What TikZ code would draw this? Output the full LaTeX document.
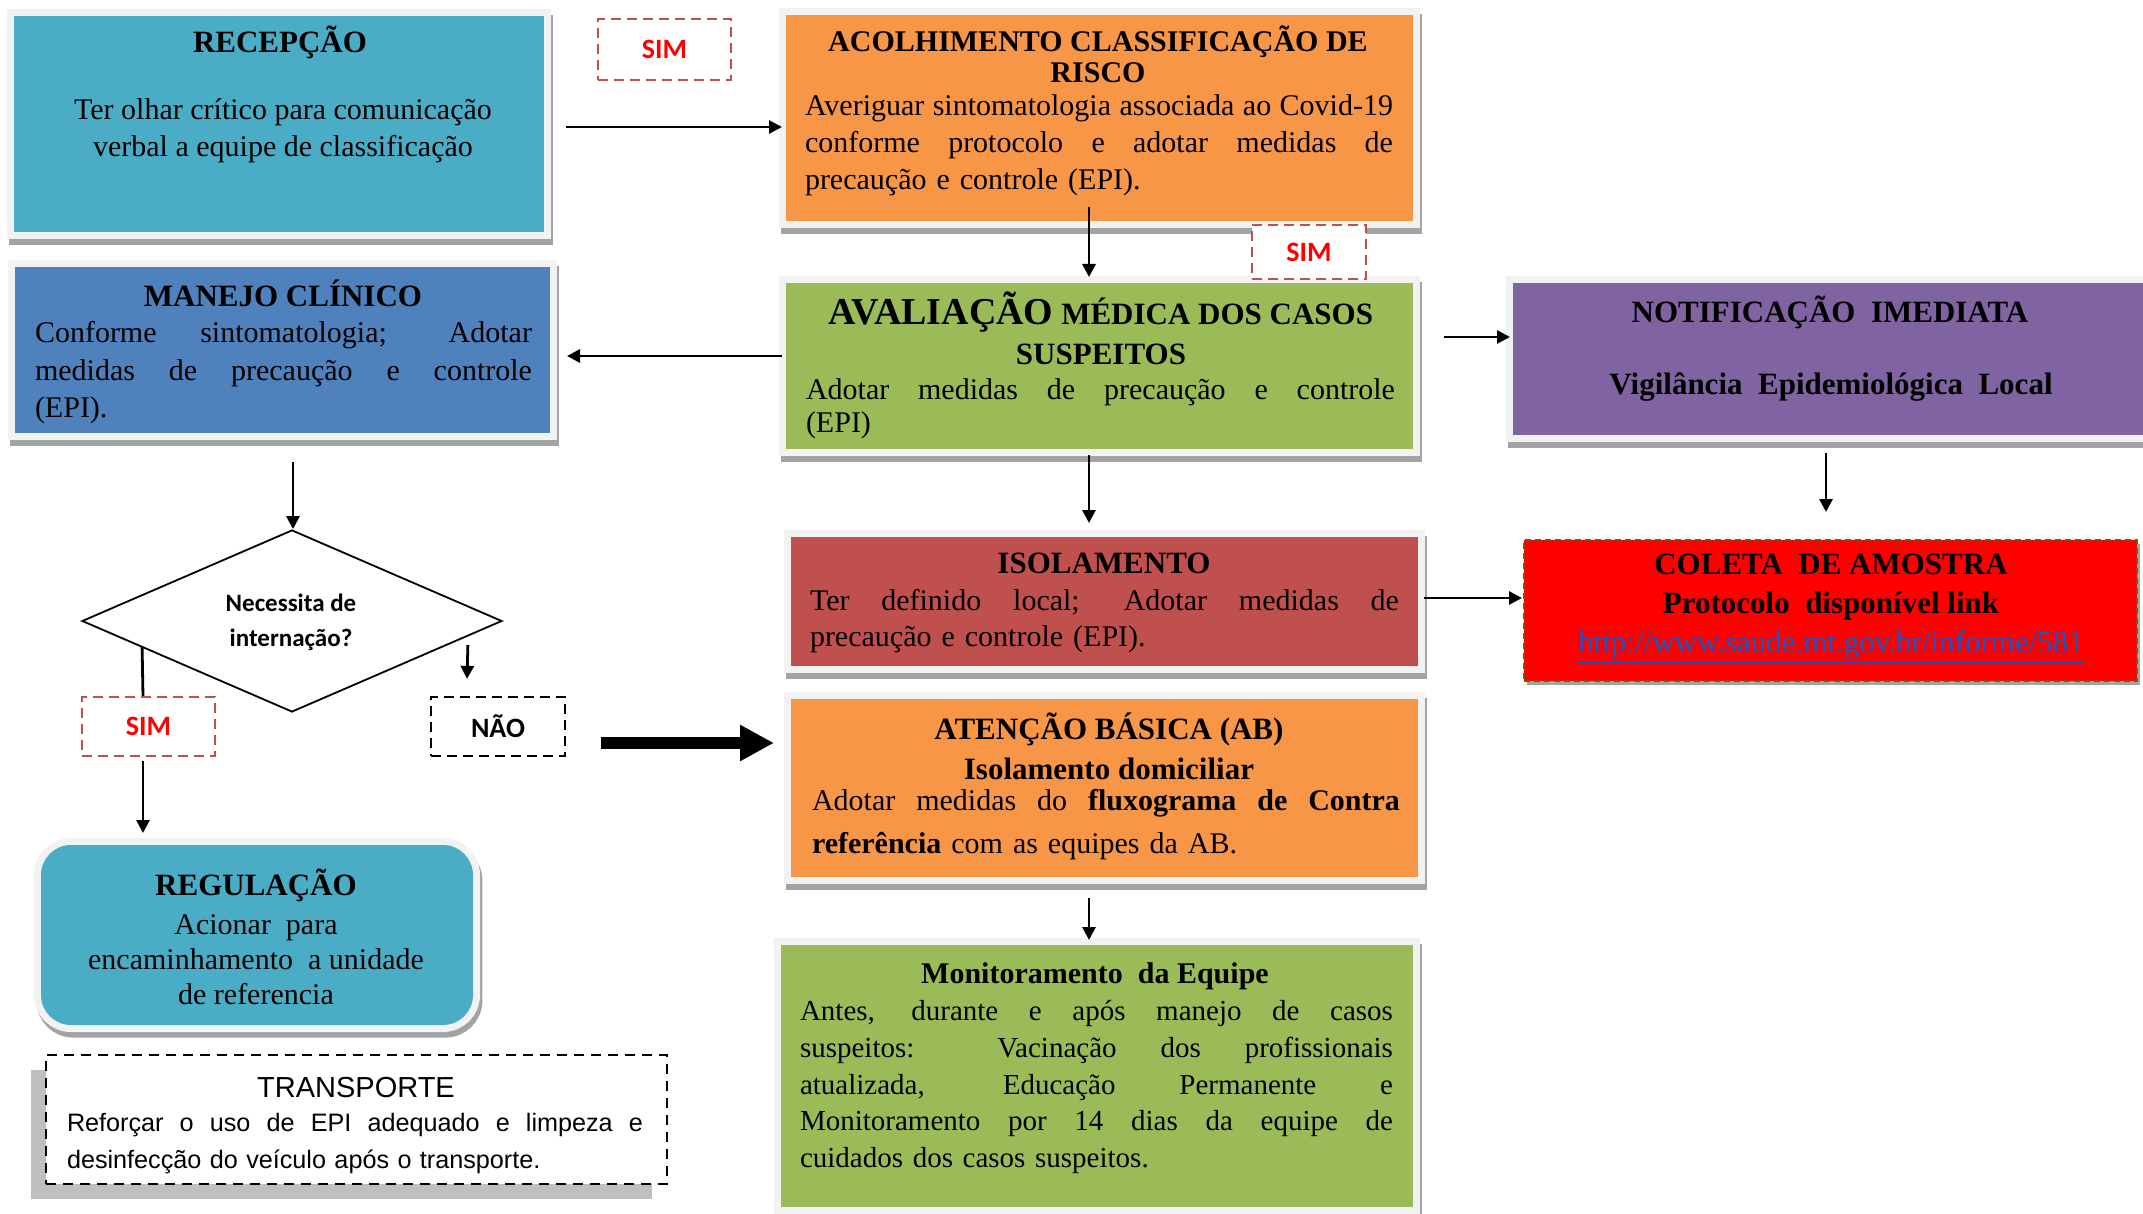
\documentclass[tikz,border=0pt]{standalone}
\usepackage{fontspec}
\setmainfont{Liberation Serif}
\newfontfamily\calib{Carlito}
\newfontfamily\arialf{Liberation Sans}
\usetikzlibrary{arrows.meta,shapes.geometric}
\definecolor{framecol}{HTML}{F2F2F2}
\definecolor{shadowcol}{HTML}{A3A3A3}
\definecolor{teal1}{HTML}{4BACC6}
\definecolor{orange1}{HTML}{F79646}
\definecolor{green1}{HTML}{9BBB59}
\definecolor{blue1}{HTML}{4F81BD}
\definecolor{purple1}{HTML}{8064A2}
\definecolor{red1}{HTML}{C0504D}
\definecolor{brown1}{HTML}{984807}
\definecolor{linkblue}{HTML}{1A56C8}
\definecolor{pureRed}{HTML}{FF0000}
\definecolor{transhadow}{HTML}{BFBFBF}
\newcommand{\jl}[2]{{\spaceskip=0pt\xspaceskip=0pt\makebox[#1][s]{#2}}\\}
\begin{document}
\begin{tikzpicture}[x=0.5pt,y=-0.5pt,
  box/.style={rectangle, inner sep=0pt, outer sep=0pt,
    preaction={draw=shadowcol, line width=7pt, transform canvas={xshift=1.2pt,yshift=-2.8pt}},
    preaction={draw=framecol, line width=7pt}},
  ttl/.style={inner sep=0pt, align=center, font=\bfseries\fontsize{15.5pt}{18pt}\selectfont},
  bod/.style={inner sep=0pt, align=left, font=\fontsize{15pt}{18.5pt}\selectfont},
  simbox/.style={rectangle, inner sep=0pt, fill=white, draw=red1, line width=1.1pt, dash pattern=on 5pt off 3pt, text=pureRed, font=\calib\bfseries\fontsize{14pt}{16pt}\selectfont},
  arr/.style={-{Triangle[length=6.5pt,width=6.5pt]}, line width=1.4pt},
  plain/.style={line width=1.4pt},
  thickarr/.style={-{Triangle[length=17pt,width=17pt]}, line width=6pt}]
\useasboundingbox (0,0) rectangle (2143,1214);

% boxes
\node[box, fill=teal1, minimum width=265pt, minimum height=108pt] (rec) at (279,124) {};
\node[box, fill=orange1, minimum width=313.5pt, minimum height=103pt] (acol) at (1099.5,118) {};
\node[box, fill=green1, minimum width=313.5pt, minimum height=83pt] (aval) at (1099.5,366) {};
\node[box, fill=blue1, minimum width=267.5pt, minimum height=83pt] (man) at (282.5,350) {};
\node[box, fill=purple1, minimum width=318.5pt, minimum height=76pt] (notif) at (1831.5,359) {};
\node[box, fill=red1, minimum width=313.5pt, minimum height=64.5pt] (iso) at (1104.5,601.5) {};
\node[box, fill=orange1, minimum width=313.5pt, minimum height=89pt] (ab) at (1104.5,788) {};
\node[box, fill=green1, minimum width=316pt, minimum height=131pt] (mon) at (1097,1076) {};
\node[box, rounded corners=15pt, fill=teal1, minimum width=216pt, minimum height=90pt] (reg) at (257,935) {};
\node[rectangle, inner sep=0pt, fill=pureRed, draw=brown1, line width=1pt, dash pattern=on 3pt off 2pt,
  preaction={fill=shadowcol, transform canvas={xshift=1.5pt,yshift=-2pt}},
  minimum width=306.5pt, minimum height=70.5pt] (col) at (1830.5,610.5) {};
\node[rectangle, inner sep=0pt, fill=white, draw=black, line width=1pt, dash pattern=on 5pt off 3.5pt,
  preaction={fill=transhadow, transform canvas={xshift=-7.5pt,yshift=-7.5pt}},
  minimum width=310.5pt, minimum height=64.5pt] (tr) at (356.5,1119.5) {};
\node[diamond, draw, line width=0.9pt, inner sep=0pt, minimum width=210pt, minimum height=91pt] (dia) at (292,621) {};

% labels SIM / NAO
\node[simbox, minimum width=66.5pt, minimum height=30.5pt] (sim1) at (664.5,49.5) {SIM};
\node[simbox, minimum width=57pt, minimum height=27pt] (sim2) at (1309,252) {SIM};
\node[simbox, minimum width=66.5pt, minimum height=29.5pt] (sim3) at (148.5,726.5) {SIM};
\node[simbox, draw=black, text=black, minimum width=67pt, minimum height=29.5pt] (nao) at (498,726.5) {NÃO};

% texts
\node[ttl] (recT) at (280,42) {RECEPÇÃO};
\node[bod, align=center] (recB) at (283,131) {Ter olhar crítico para comunicação\\verbal a equipe de classificação};

\node[ttl, font=\bfseries\fontsize{15pt}{15.5pt}\selectfont] (acolT) at (1098,54) {ACOLHIMENTO CLASSIFICAÇÃO DE\\RISCO};
\node[bod, text width=294pt] (acolB) at (1099,145) {\jl{294pt}{Averiguar sintomatologia associada ao Covid-19}\jl{294pt}{conforme protocolo e adotar medidas de}precaução e controle (EPI).};

\node[ttl, font=\bfseries\fontsize{15.5pt}{20pt}\selectfont] (avalT) at (1101,328) {{\fontsize{19pt}{20pt}\selectfont AVALIAÇÃO} MÉDICA DOS CASOS\\SUSPEITOS};
\node[bod, text width=294.5pt, font=\fontsize{15pt}{16.5pt}\selectfont] (avalB) at (1100.5,409) {\jl{294.5pt}{Adotar medidas de precaução e controle}(EPI)};

\node[ttl] (manT) at (283,293) {MANEJO CLÍNICO};
\node[bod, text width=248.5pt, font=\fontsize{15pt}{18.75pt}\selectfont] (manB) at (283.5,373) {\jl{248.5pt}{Conforme sintomatologia; Adotar}\jl{248.5pt}{medidas de precaução e controle}(EPI).};

\node[ttl] (notifT) at (1830,312) {NOTIFICAÇÃO\ \ IMEDIATA};
\node[ttl] (notifB) at (1831,387) {Vigilância\ \ Epidemiológica\ \ Local};

\node[ttl, font=\bfseries\fontsize{15.5pt}{19.5pt}\selectfont] (colT) at (1831,609) {COLETA\ \ DE AMOSTRA\\Protocolo\ \ disponível link\\{\mdseries\color{linkblue}\underline{http://www.saude.mt.gov.br/informe/581}}};

\node[ttl] (isoT) at (1104,563) {ISOLAMENTO};
\node[bod, text width=294.5pt, font=\fontsize{15pt}{18pt}\selectfont] (isoB) at (1104.5,621) {\jl{294.5pt}{Ter definido local; Adotar medidas de}precaução e controle (EPI).};

\node[ttl, font=\bfseries\fontsize{15.5pt}{20pt}\selectfont] (abT) at (1109,746) {ATENÇÃO BÁSICA (AB)\\Isolamento domiciliar};
\node[bod, text width=294pt, font=\fontsize{15pt}{21.5pt}\selectfont] (abB) at (1106,825) {\jl{294pt}{Adotar medidas do \textbf{fluxograma de Contra}}\textbf{referência} com as equipes da AB.};

\node[ttl, font=\bfseries\fontsize{15pt}{18pt}\selectfont] (monT) at (1095,976) {Monitoramento\ \ da Equipe};
\node[bod, text width=296.5pt, font=\fontsize{14.5pt}{18.4pt}\selectfont] (monB) at (1096.5,1087) {\jl{296.5pt}{Antes, durante e após manejo de casos}\jl{296.5pt}{suspeitos: Vacinação dos profissionais}\jl{296.5pt}{atualizada, Educação Permanente e}\jl{296.5pt}{Monitoramento por 14 dias da equipe de}cuidados dos casos suspeitos.};

\node[ttl] (regT) at (256,885) {REGULAÇÃO};
\node[bod, align=center, font=\fontsize{15pt}{17.5pt}\selectfont] (regB) at (256,960) {Acionar\ \ para\\encaminhamento\ \ a unidade\\de referencia};

\node[inner sep=0pt, font=\arialf\fontsize{14.5pt}{16pt}\selectfont] (trT) at (356,1088) {TRANSPORTE};
\node[bod, text width=288pt, font=\arialf\fontsize{12.6pt}{18.5pt}\selectfont] (trB) at (355,1144) {\jl{288pt}{Reforçar o uso de EPI adequado e limpeza e}desinfecção do veículo após o transporte.};

\node[inner sep=0pt, align=center, font=\calib\bfseries\fontsize{12.5pt}{17.5pt}\selectfont] (diaT) at (291,622) {Necessita de\\internação?};

% connectors
\draw[arr] ([xshift=11pt,yshift=-1.5pt]rec.east) -- ([xshift=-2pt,yshift=-4.5pt]acol.west);
\draw[arr] ([xshift=-5.25pt,yshift=7pt]acol.south) -- ([xshift=-5.25pt,yshift=3pt]aval.north);
\draw[arr] ([xshift=-2pt,yshift=5pt]aval.west) -- ([xshift=8.5pt,yshift=-3pt]man.east);
\draw[arr] ([xshift=15.5pt,yshift=14.5pt]aval.east) -- ([xshift=-1.5pt,yshift=11pt]notif.west);
\draw[arr] ([xshift=-2.75pt,yshift=-9pt]notif.south) -- ([xshift=-2.25pt,yshift=13.5pt]col.north);
\draw[arr] ([xshift=-5.25pt,yshift=-3pt]aval.south) -- ([xshift=-7.75pt,yshift=7pt]iso.north);
\draw[arr] ([xshift=3pt,yshift=1.75pt]iso.east) -- ([xshift=-0.5pt,yshift=6.25pt]col.west);
\draw[arr] ([xshift=-7.75pt,yshift=-10.25pt]ab.south) -- ([xshift=-4pt,yshift=2.5pt]mon.north);
\draw[arr] ([xshift=5.25pt,yshift=-14.5pt]man.south) -- ([xshift=0.5pt]dia.north);
\draw[plain] ([xshift=30.5pt,yshift=-13pt]dia.west) -- ([xshift=-2.75pt]sim3.north);
\draw[arr] ([xshift=-2.75pt,yshift=-2pt]sim3.south) -- ([xshift=-57pt,yshift=6pt]reg.north);
\draw[arr] ([xshift=-17.5pt,yshift=-12pt]dia.east) -- ([xshift=-15.5pt,yshift=8.5pt]nao.north);
\draw[thickarr] ([xshift=17.25pt,yshift=-8.25pt]nao.east) -- ([xshift=-8.5pt,yshift=22.5pt]ab.west);
\end{tikzpicture}
\end{document}
